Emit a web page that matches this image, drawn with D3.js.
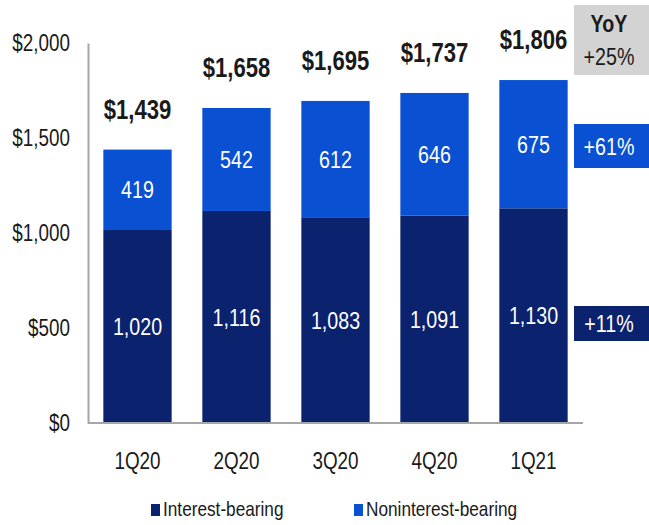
<!DOCTYPE html>
<html>
<head>
<meta charset="utf-8">
<script src="https://cdn.jsdelivr.net/npm/d3@7"></script>
<style>
  html, body { margin: 0; padding: 0; background: #fff; }
  svg { display: block; }
  svg text { font-family: "Liberation Sans", Arial, sans-serif; }
</style>
</head>
<body>
<svg id="chart" width="649" height="525"></svg>
<script>
const categories = ["1Q20", "2Q20", "3Q20", "4Q20", "1Q21"];
const interestBearing = [1020, 1116, 1083, 1091, 1130];
const noninterestBearing = [419, 542, 612, 646, 675];
const totals = [1439, 1658, 1695, 1737, 1806];
const yTicks = [0, 500, 1000, 1500, 2000];
const seriesNames = ["Interest-bearing", "Noninterest-bearing"];
const yoyLabels = ["YoY", "+25%", "+61%", "+11%"];

const colors = { navy: "#0b226e", blue: "#0a50d2", gray: "#d3d3d3", axis: "#a6a6a6", text: "#1a1a1a" };
const SX = 0.82; // horizontal condensing (narrow face)

const svg = d3.select("#chart");
const x = d3.scaleBand().domain(categories).range([88, 583]).paddingInner(0.31).paddingOuter(0.155);
const y = d3.scaleLinear().domain([0, 2000]).range([423, 43]);

const rows = categories.map((c, i) => ({ cat: c, ib: interestBearing[i], nib: noninterestBearing[i], total: totals[i] }));
const stack = d3.stack().keys(["ib", "nib"])(rows);
const fills = [colors.navy, colors.blue];

function place(sel, fx, fy) {
  return sel.attr("x", 0).attr("y", 0)
    .attr("transform", (d, i) => `translate(${fx(d, i)},${fy(d, i)}) scale(${SX},1)`);
}

// Bars
stack.forEach((layer, li) => {
  svg.append("g").selectAll("rect").data(layer).join("rect")
    .attr("x", d => x(d.data.cat))
    .attr("width", x.bandwidth())
    .attr("y", d => y(d[1]))
    .attr("height", d => y(d[0]) - y(d[1]))
    .attr("fill", fills[li]);
  place(svg.append("g").selectAll("text").data(layer).join("text"),
      d => x(d.data.cat) + x.bandwidth() / 2,
      d => (y(d[0]) + y(d[1])) / 2)
    .attr("dy", "0.36em")
    .attr("text-anchor", "middle")
    .attr("fill", "#fff")
    .attr("font-size", 24)
    .text(d => d3.format(",")(d[1] - d[0]));
});

// Totals
place(svg.append("g").selectAll("text").data(rows).join("text"),
    d => x(d.cat) + x.bandwidth() / 2,
    d => y(d.total) - 31)
  .attr("text-anchor", "middle")
  .attr("font-weight", "bold")
  .attr("font-size", 27)
  .attr("fill", colors.text)
  .text(d => "$" + d3.format(",")(d.total));

// Y axis
const yAxis = d3.axisLeft(y).tickValues(yTicks).tickSize(0).tickPadding(18 / SX).tickFormat(d => "$" + d3.format(",")(d));
const gy = svg.append("g").attr("transform", "translate(88,0)").call(yAxis).attr("font-family", null);
gy.select(".domain").attr("stroke", colors.axis).attr("stroke-width", 2);
gy.selectAll("text").attr("font-size", 23).attr("fill", colors.text).attr("transform", `scale(${SX},1)`);

// X axis
const xAxis = d3.axisBottom(x).tickSize(0).tickPadding(30);
const gx = svg.append("g").attr("transform", "translate(0,423)").call(xAxis).attr("font-family", null);
gx.select(".domain").attr("stroke", colors.axis).attr("stroke-width", 2).attr("d", "M88,0H583");
gx.selectAll("text").attr("font-size", 23).attr("fill", colors.text).attr("transform", `scale(${SX},1)`);

// Legend
const legendX = [151, 354];
seriesNames.forEach((name, i) => {
  const g = svg.append("g").attr("transform", `translate(${legendX[i]},504)`);
  g.append("rect").attr("width", 9).attr("height", 12).attr("fill", fills[i]);
  g.append("text").attr("transform", `translate(12,12) scale(${SX},1)`).attr("font-size", 21).attr("fill", colors.text).text(name);
});

// YoY boxes
const boxX = 574;
const yoy = svg.append("g");
function boxText(cx, cy, txt, opts) {
  const t = yoy.append("text").attr("transform", `translate(${cx},${cy}) scale(${SX},1)`)
    .attr("text-anchor", "middle").attr("font-size", 24).attr("fill", opts.fill).text(txt);
  if (opts.bold) t.attr("font-weight", "bold");
  if (opts.mid) t.attr("dy", "0.36em");
  return t;
}
yoy.append("rect").attr("x", boxX).attr("y", 5).attr("width", 649 - boxX).attr("height", 70).attr("fill", colors.gray);
boxText(609, 32, yoyLabels[0], { fill: colors.text, bold: true });
boxText(609, 65, yoyLabels[1], { fill: colors.text });
yoy.append("rect").attr("x", boxX).attr("y", 124).attr("width", 649 - boxX).attr("height", 44).attr("fill", colors.blue);
boxText(609, 146, yoyLabels[2], { fill: "#fff", mid: true });
yoy.append("rect").attr("x", boxX).attr("y", 306).attr("width", 649 - boxX).attr("height", 35).attr("fill", colors.navy);
boxText(609, 323, yoyLabels[3], { fill: "#fff", mid: true });
</script>
</body>
</html>
